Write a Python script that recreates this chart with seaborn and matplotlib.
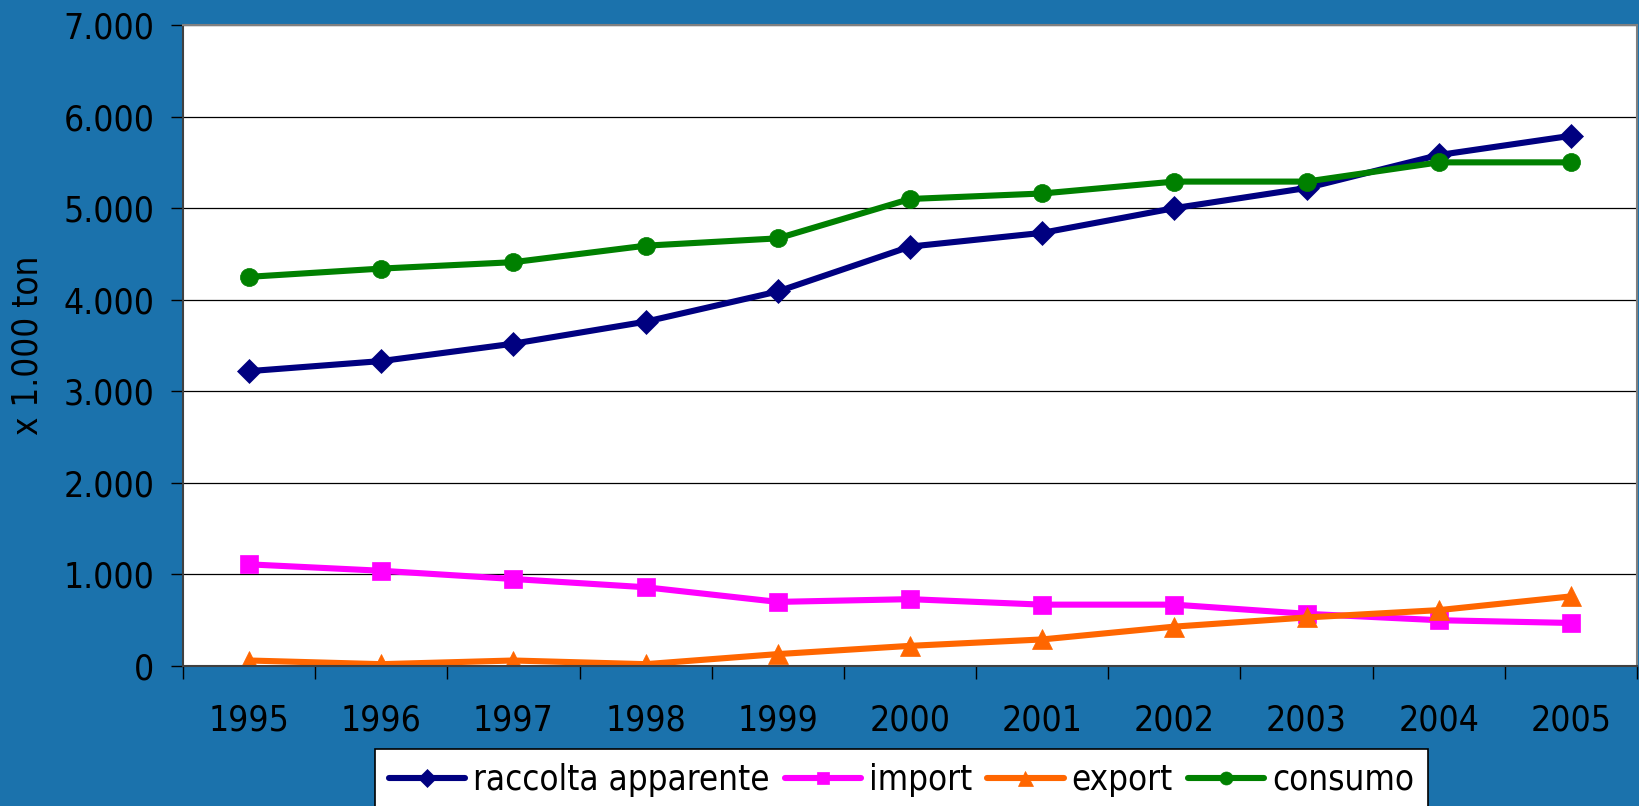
import matplotlib
matplotlib.use("Agg")
import matplotlib.pyplot as plt
import seaborn as sns
import pandas as pd

# data (x 1.000 ton)
years = [1995, 1996, 1997, 1998, 1999, 2000, 2001, 2002, 2003, 2004, 2005]
raccolta = [3220, 3330, 3520, 3760, 4090, 4580, 4730, 5000, 5220, 5580, 5790]
import_ = [1110, 1040, 950, 860, 700, 730, 670, 670, 570, 500, 470]
export = [60, 20, 60, 20, 130, 220, 290, 430, 530, 610, 760]
consumo = [4250, 4340, 4410, 4590, 4670, 5100, 5160, 5290, 5290, 5500, 5500]

series_names = ["raccolta apparente", "import", "export", "consumo"]
y_ticks = [0, 1000, 2000, 3000, 4000, 5000, 6000, 7000]
y_tick_labels = ["0", "1.000", "2.000", "3.000", "4.000", "5.000", "6.000", "7.000"]

df = pd.DataFrame({
    "anno": years * 4,
    "valore": raccolta + import_ + export + consumo,
    "serie": sum([[n] * len(years) for n in series_names], []),
})

colors = {"raccolta apparente": "#000080", "import": "#ff00ff",
          "export": "#ff6600", "consumo": "#008000"}
markers = {"raccolta apparente": "D", "import": "s", "export": "^", "consumo": "o"}
msizes = {"raccolta apparente": 12.5, "import": 12.5, "export": 15, "consumo": 13}

sns.set_style("white")
plt.rcParams["font.family"] = ["DejaVu Sans"]
plt.rcParams["font.stretch"] = "condensed"
plt.rcParams["text.color"] = "black"
plt.rcParams["xtick.color"] = "black"
plt.rcParams["ytick.color"] = "black"

bg = "#1b72ac"
fig = plt.figure(figsize=(16.39, 8.06), dpi=100, facecolor=bg)
ax = fig.add_axes([183 / 1639, 1 - 666 / 806, 1454 / 1639, 641 / 806])
ax.set_facecolor("white")

for name in series_names:
    sub = df[df["serie"] == name]
    sns.lineplot(data=sub, x="anno", y="valore", ax=ax, color=colors[name],
                 marker=markers[name], markersize=msizes[name],
                 markeredgecolor=colors[name], markeredgewidth=0.5,
                 linewidth=4.4, label=name, legend=False)

ax.set_xlim(1994.5, 2005.5)
ax.set_ylim(0, 7000)
ax.set_yticks(y_ticks)
ax.set_yticklabels(y_tick_labels)
ax.set_xticks(years)
ax.set_xticklabels([str(y) for y in years])
ax.set_xticks([y - 0.5 for y in years] + [years[-1] + 0.5], minor=True)
ax.grid(axis="y", color="black", linewidth=0.9)
ax.set_axisbelow(True)

ax.tick_params(axis="y", which="major", direction="out", length=8.6, width=1,
               colors="black", pad=12, labelsize=25.5, left=True)
ax.tick_params(axis="x", which="major", length=0, pad=27, labelsize=25.5,
               colors="black")
ax.tick_params(axis="x", which="minor", direction="out", length=9, width=1,
               color="black", bottom=True)
ax.set_xlabel("")
ax.set_ylabel("")

for side in ["top", "right"]:
    ax.spines[side].set_color("#808080")
    ax.spines[side].set_linewidth(1.5)
for side in ["left", "bottom"]:
    ax.spines[side].set_color("#404040")
    ax.spines[side].set_linewidth(1.5)

fig.text(28 / 1639, 1 - 345 / 806, "x 1.000 ton", rotation=90, ha="center",
         va="center", fontsize=25, color="black")

handles, labels = ax.get_legend_handles_labels()
leg = fig.legend(handles, labels, loc="upper left", ncol=4,
                 bbox_to_anchor=(375 / 1639, 1 - 749 / 806), borderaxespad=0,
                 fontsize=25, frameon=True, fancybox=False, framealpha=1,
                 edgecolor="black", facecolor="white", handlelength=2.2,
                 handletextpad=0.22, columnspacing=0.44, borderpad=0.4)
leg.get_frame().set_linewidth(1.2)
for h in leg.legend_handles:
    h.set_markersize(h.get_markersize() * 0.72)

fig.savefig("out.png", dpi=100, facecolor=bg)
